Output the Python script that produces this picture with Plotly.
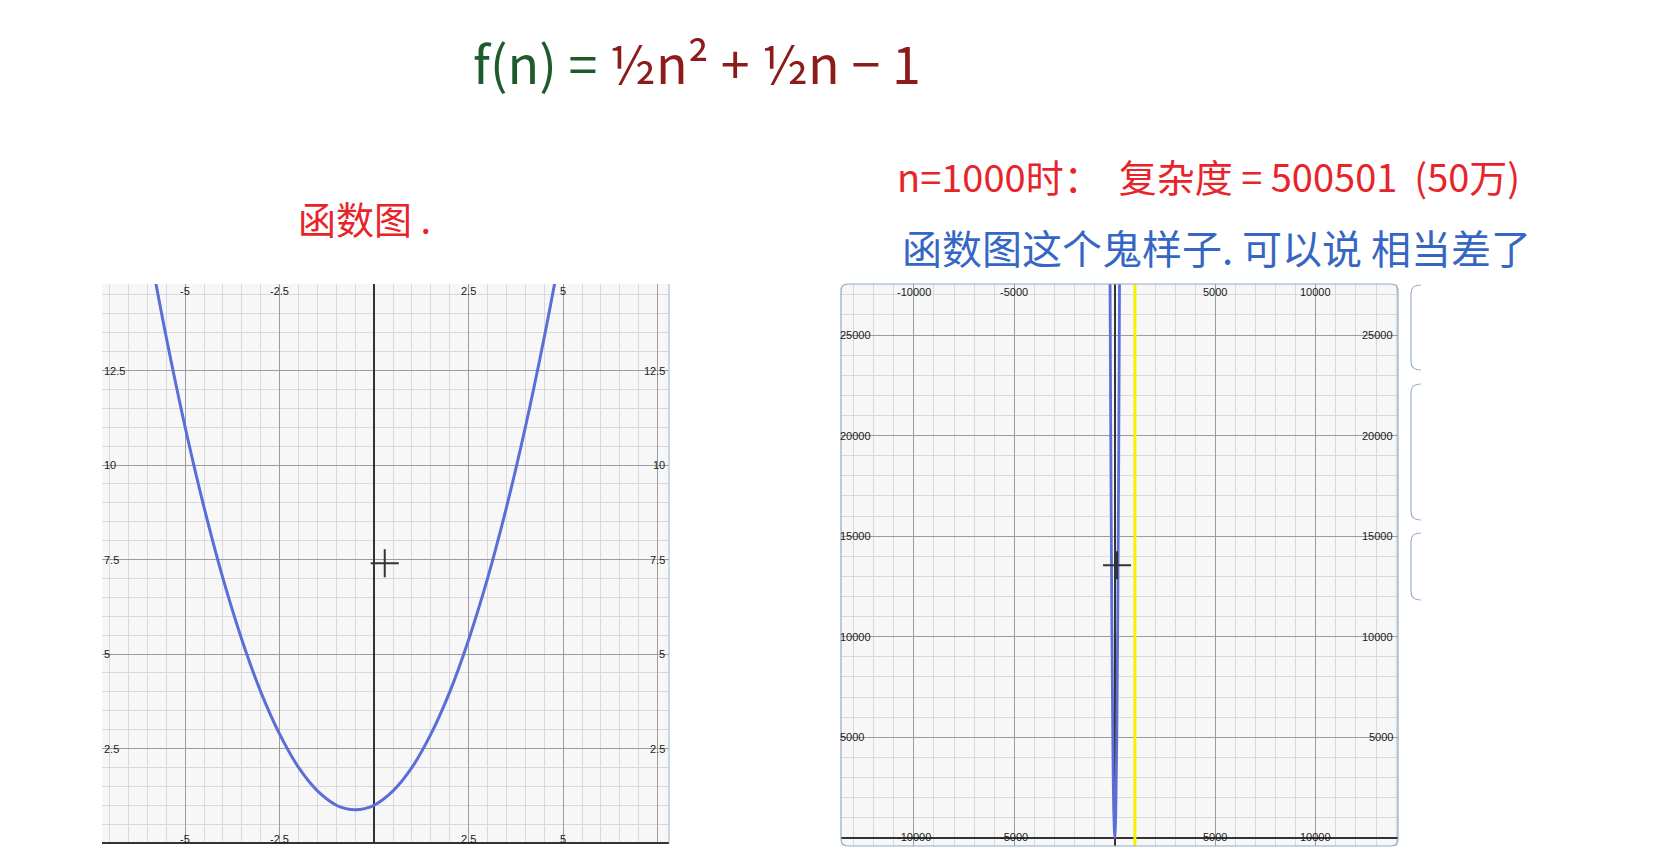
import plotly.graph_objects as go

W, H = 1655, 861

# ---------------- data ----------------
# left graph: readings of the plotted curve
left_x = [-6, -5.5, -5, -4.5, -4, -3.5, -3, -2.5, -2, -1.5, -1, -0.75, -0.5, -0.25, 0, 0.5, 1, 1.5, 2, 2.5, 3, 3.5, 4, 4.5, 5]
left_y = [16, 13.38, 11, 8.88, 7, 5.38, 4, 2.88, 2, 1.38, 1, 0.91, 0.88, 0.91, 1, 1.38, 2, 2.88, 4, 5.38, 7, 8.88, 11, 13.38, 16]
left_xticks = [-5, -2.5, 2.5, 5]
left_yticks = [2.5, 5, 7.5, 10, 12.5]
left_cursor = (0.28, 7.4)

# right graph: readings of the plotted curve
right_x = [-250, -240, -200, -150, -100, -50, 0, 50, 100, 150, 200, 240, 250]
right_y = [31100, 28700, 19900, 11200, 5000, 1250, 1, 1300, 5050, 11300, 20100, 28900, 31400]
right_xticks = [-10000, -5000, 5000, 10000]
right_yticks = [5000, 10000, 15000, 20000, 25000]
right_cursor = (110, 13550)
marker_n = 1000

formula_text = ('<span style="color:#1d5a2c">f(n) = </span>'
                '<span style="color:#8c1c1c">½n² + ½n − 1</span>')
note_left = "函数图 ."
note_red = "n=1000时：  复杂度 = 500501  (50万)"
note_blue = "函数图这个鬼样子. 可以说 相当差了"


def px(x):
    return x / W


def py(y):
    return 1 - y / H


fig = go.Figure()

curve_col = "#5a6ed6"
fig.add_trace(go.Scatter(x=left_x, y=left_y, mode="lines", line=dict(color=curve_col, width=3, shape="spline", smoothing=0.8),
                         xaxis="x", yaxis="y", hoverinfo="skip"))
fig.add_trace(go.Scatter(x=[left_cursor[0]], y=[left_cursor[1]], mode="markers",
                         marker=dict(symbol="cross-thin", size=20, line=dict(color="#333", width=2)),
                         xaxis="x", yaxis="y", hoverinfo="skip"))

fig.add_trace(go.Scatter(x=right_x, y=right_y, mode="lines", line=dict(color=curve_col, width=2.8, shape="spline"),
                         xaxis="x2", yaxis="y2", hoverinfo="skip"))
fig.add_trace(go.Scatter(x=[right_cursor[0]], y=[right_cursor[1]], mode="markers",
                         marker=dict(symbol="cross-thin", size=20, line=dict(color="#333", width=2)),
                         xaxis="x2", yaxis="y2", hoverinfo="skip"))

major = "#9c9c9c"
minor = "#d9d9d9"


def ax(domain, rng, dtick, mdtick, anchor):
    return dict(domain=domain, range=rng, anchor=anchor, dtick=dtick, tick0=0,
                showgrid=True, gridcolor=major, gridwidth=1,
                minor=dict(dtick=mdtick, tick0=0, showgrid=True, gridcolor=minor, gridwidth=1),
                zeroline=True, zerolinecolor="#333", zerolinewidth=2,
                showticklabels=False, ticks="", showline=False, fixedrange=True)


fig.update_layout(
    width=W, height=H, margin=dict(l=0, r=0, t=0, b=0),
    paper_bgcolor="white", plot_bgcolor="#f7f7f7", showlegend=False,
    xaxis=ax([px(102), px(669)], [-7.2, 7.8], 2.5, 0.5, "y"),
    yaxis=ax([py(843), py(284)], [0, 14.79], 2.5, 0.5, "x"),
    xaxis2=ax([px(841), px(1398)], [-13622, 14090], 5000, 1000, "y2"),
    yaxis2=ax([py(846), py(284)], [-405, 27541], 5000, 1000, "x2"),
)

# yellow marker line at n = 1000
fig.add_shape(type="line", xref="x2", yref="y2 domain", x0=marker_n, x1=marker_n, y0=0, y1=1,
              line=dict(color="#f7f000", width=3))

# bottom axis line on left chart, right edge line
fig.add_shape(type="line", xref="paper", yref="paper", x0=px(102), x1=px(669), y0=py(843), y1=py(843),
              line=dict(color="#333", width=2))
fig.add_shape(type="line", xref="paper", yref="paper", x0=px(669), x1=px(669), y0=py(843), y1=py(284),
              line=dict(color="#9db4cc", width=1))


def rrect(x0, y0, x1, y1, r):
    return (f"M {px(x0 + r)} {py(y0)} L {px(x1 - r)} {py(y0)} Q {px(x1)} {py(y0)} {px(x1)} {py(y0 + r)} "
            f"L {px(x1)} {py(y1 - r)} Q {px(x1)} {py(y1)} {px(x1 - r)} {py(y1)} "
            f"L {px(x0 + r)} {py(y1)} Q {px(x0)} {py(y1)} {px(x0)} {py(y1 - r)} "
            f"L {px(x0)} {py(y0 + r)} Q {px(x0)} {py(y0)} {px(x0 + r)} {py(y0)} Z")


fig.add_shape(type="path", xref="paper", yref="paper", path=rrect(841, 284, 1398, 846, 7),
              line=dict(color="#8faac6", width=1.2))
for (t, b) in [(285, 370), (384, 520), (533, 600)]:
    path = (f"M {px(1421)} {py(t)} Q {px(1411)} {py(t)} {px(1411)} {py(t + 8)} "
            f"L {px(1411)} {py(b - 8)} Q {px(1411)} {py(b)} {px(1421)} {py(b)}")
    fig.add_shape(type="path", xref="paper", yref="paper", path=path, line=dict(color="#9bb0c8", width=1.2))

tick_font = dict(family="Liberation Sans, Arial", size=11, color="#1a1a1a")
ann = []
for v in left_xticks:
    lab = f"{v:g}"
    ann.append(dict(x=v, y=1, xref="x", yref="y domain", text=lab, showarrow=False, xanchor="center",
                    yanchor="top", yshift=1, font=tick_font))
    ann.append(dict(x=v, y=0, xref="x", yref="y domain", text=lab, showarrow=False, xanchor="center",
                    yanchor="middle", yshift=4, font=tick_font))
for v in left_yticks:
    lab = f"{v:g}"
    ann.append(dict(x=0, y=v, xref="x domain", yref="y", text=lab, showarrow=False, xanchor="left",
                    yanchor="middle", font=tick_font))
    ann.append(dict(x=1, y=v, xref="x domain", yref="y", text=lab, showarrow=False, xanchor="right",
                    yanchor="middle", xshift=-2, font=tick_font))
for v in right_xticks:
    lab = f"{v:g}"
    ann.append(dict(x=v, y=1, xref="x2", yref="y2 domain", text=lab, showarrow=False, xanchor="center",
                    yanchor="top", yshift=0, font=tick_font))
    ann.append(dict(x=v, y=0, xref="x2", yref="y2", text=lab, showarrow=False, xanchor="center",
                    yanchor="middle", yshift=1, font=tick_font))
for v in right_yticks:
    lab = f"{v:g}"
    ann.append(dict(x=0, y=v, xref="x2 domain", yref="y2", text=lab, showarrow=False, xanchor="left",
                    yanchor="middle", xshift=-3, font=tick_font))
    ann.append(dict(x=1, y=v, xref="x2 domain", yref="y2", text=lab, showarrow=False, xanchor="right",
                    yanchor="middle", xshift=-3, font=tick_font))

cjk = "Noto Sans CJK SC"
ann.append(dict(x=px(697), y=py(62), xref="paper", yref="paper", text=formula_text, showarrow=False,
                xanchor="center", yanchor="middle", font=dict(family=cjk, size=52)))
ann.append(dict(x=px(296), y=py(218), xref="paper", yref="paper", text=note_left, showarrow=False,
                xanchor="left", yanchor="middle", font=dict(family=cjk, size=38, color="#e8242b")))
ann.append(dict(x=px(895), y=py(175), xref="paper", yref="paper", text=note_red, showarrow=False,
                xanchor="left", yanchor="middle", font=dict(family=cjk, size=38, color="#e8242b")))
ann.append(dict(x=px(900), y=py(247), xref="paper", yref="paper", text=note_blue, showarrow=False,
                xanchor="left", yanchor="middle", font=dict(family=cjk, size=40, color="#3566c4")))
fig.update_layout(annotations=ann)

fig.write_html("out.html")
